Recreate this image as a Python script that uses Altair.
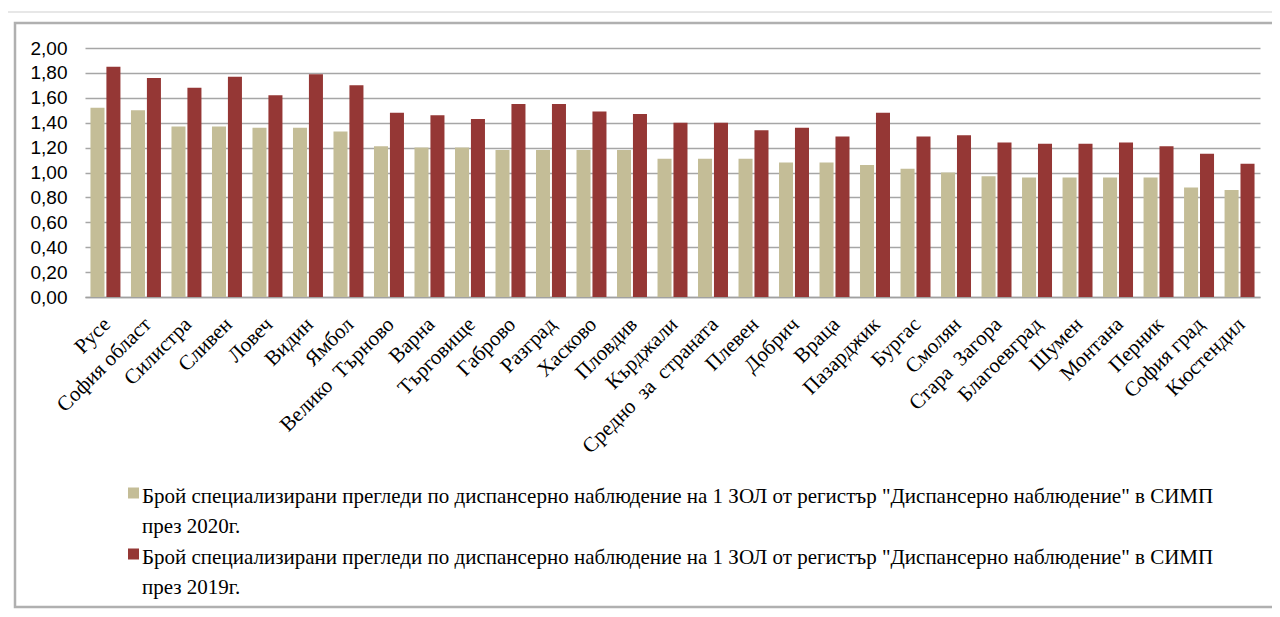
import altair as alt
import pandas as pd

NB = "\u00a0 "
regions = ["Русе", "София област", "Силистра", "Сливен", "Ловеч", "Видин", "Ямбол",
           "Велико" + NB + "Търново", "Варна", "Търговище", "Габрово", "Разград", "Хасково",
           "Пловдив", "Кърджали", "Средно" + NB + "за" + NB + "страната", "Плевен", "Добрич", "Враца",
           "Пазарджик", "Бургас", "Смолян", "Стара" + NB + "Загора", "Благоевград", "Шумен",
           "Монтана", "Перник", "София град", "Кюстендил"]
v2020 = [1.52, 1.50, 1.37, 1.37, 1.36, 1.36, 1.33, 1.21, 1.20, 1.20, 1.18, 1.18, 1.18,
         1.18, 1.11, 1.11, 1.11, 1.08, 1.08, 1.06, 1.03, 1.00, 0.97, 0.96, 0.96, 0.96,
         0.96, 0.88, 0.86]
v2019 = [1.85, 1.76, 1.68, 1.77, 1.62, 1.79, 1.70, 1.48, 1.46, 1.43, 1.55, 1.55, 1.49,
         1.47, 1.40, 1.40, 1.34, 1.36, 1.29, 1.48, 1.29, 1.30, 1.24, 1.23, 1.23, 1.24,
         1.21, 1.15, 1.07]
series = ["2020", "2019"]
series_colors = ["#c4bd97", "#953735"]
legend_text = 'Брой специализирани прегледи  по диспансерно наблюдение на 1 ЗОЛ от регистър "Диспансерно наблюдение" в СИМП'
legend_tail = ["през 2020г.", "през 2019г."]
y_ticks = [0, 0.2, 0.4, 0.6, 0.8, 1.0, 1.2, 1.4, 1.6, 1.8, 2.0]

rows = []
for i, r in enumerate(regions):
    rows.append({"region": r, "year": "2020", "value": v2020[i]})
    rows.append({"region": r, "year": "2019", "value": v2019[i]})
df = pd.DataFrame(rows)

W, H = 1175, 249
SERIF = "Liberation Serif"

bars = alt.Chart(df).mark_bar().encode(
    x=alt.X("region:N", sort=regions,
            scale=alt.Scale(paddingInner=0.26, paddingOuter=0.135),
            axis=alt.Axis(title=None, labelAngle=-45, labelAlign="right", labelBaseline="middle",
                          labelFont=SERIF, labelFontSize=21, labelColor="#000000",
                          ticks=False, domain=True, domainColor="#a0a0a0", domainWidth=1.5,
                          labelPadding=24, labelLimit=300, labelOffset=2)),
    xOffset=alt.XOffset("year:N", sort=series, scale=alt.Scale(paddingInner=0.12)),
    y=alt.Y("value:Q", scale=alt.Scale(domain=[0, 2]),
            axis=alt.Axis(title=None, values=y_ticks, grid=True, gridColor="#a6a6a6", gridWidth=1.5,
                          domain=False, ticks=False, labelPadding=18,
                          labelExpr="replace(format(datum.value, '.2f'), '.', ',')",
                          labelFont="Liberation Sans", labelFontSize=19, labelColor="#000000")),
    color=alt.Color("year:N", sort=series,
                    scale=alt.Scale(domain=series, range=series_colors),
                    legend=None),
)

frame_outer = alt.Chart(pd.DataFrame({"a": [0]})).mark_rect(
    fill=None, stroke="#e0e0e0", strokeWidth=1.5
).encode(x=alt.value(-78), x2=alt.value(1215), y=alt.value(-36), y2=alt.value(570))
frame = alt.Chart(pd.DataFrame({"a": [0]})).mark_rect(
    fill=None, stroke="#b0b0b0", strokeWidth=2.5
).encode(x=alt.value(-70), x2=alt.value(1205), y=alt.value(-25), y2=alt.value(559))

# manual legend (entries stacked below the axis labels)
legend_layers = []
for i, yr in enumerate(series):
    ldf = pd.DataFrame({"label": [legend_text + "\n" + legend_tail[i]]})
    base = 455 + i * 61
    sym = alt.Chart(ldf).mark_square(size=121, opacity=1).encode(
        x=alt.value(48.5), y=alt.value(base - 10), color=alt.value(series_colors[i]))
    txt = alt.Chart(ldf).mark_text(align="left", baseline="alphabetic", font=SERIF, fontSize=21,
                                   lineHeight=30, lineBreak="\n", color="#000000").encode(
        x=alt.value(57), y=alt.value(base), text="label:N")
    legend_layers += [sym, txt]

chart = alt.layer(frame_outer, frame, bars, *legend_layers).properties(
    width=W, height=H,
    autosize=alt.AutoSizeParams(type="none"),
    padding={"left": 77, "top": 40, "right": 12, "bottom": 312},
).configure_view(stroke=None)

chart.save("out.html", embed_options={"renderer": "svg", "actions": False})
